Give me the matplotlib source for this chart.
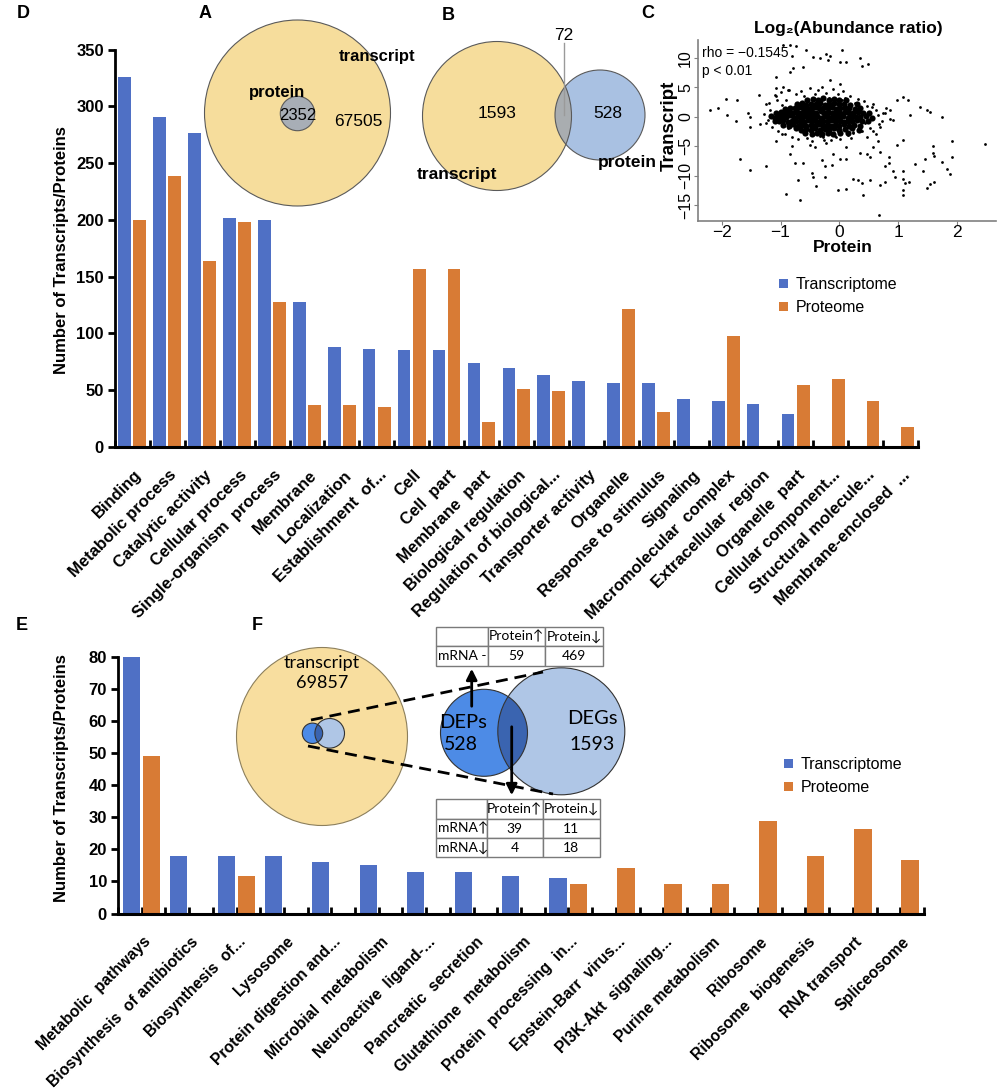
import numpy as np
import matplotlib.pyplot as plt
from matplotlib.patches import Circle, Ellipse, Rectangle
from matplotlib.transforms import offset_copy

plt.rcParams['font.family'] = ['Liberation Sans', 'DejaVu Sans']

BLUE = '#4f70c5'
ORANGE = '#d87b35'

# ---- panel D: GO terms ----
go_terms = ['Binding', 'Metabolic process', 'Catalytic activity', 'Cellular process',
            'Single-organism  process', 'Membrane', 'Localization', 'Establishment  of...',
            'Cell', 'Cell  part', 'Membrane  part', 'Biological regulation',
            'Regulation of biological...', 'Transporter activity', 'Organelle',
            'Response to stimulus', 'Signaling', 'Macromolecular  complex',
            'Extracellular  region', 'Organelle  part', 'Cellular component...',
            'Structural molecule...', 'Membrane-enclosed  ...']
go_transcriptome = [326, 291, 277, 202, 200, 128, 88, 86, 85, 85, 74, 69, 63, 58,
                    56, 56, 42, 40, 38, 29, 0, 0, 0]
go_proteome = [200, 239, 164, 198, 128, 37, 37, 35, 157, 157, 22, 51, 49, 0,
               121, 31, 0, 98, 0, 54, 60, 40, 17]

# ---- panel E: KEGG pathways ----
kegg_terms = ['Metabolic  pathways', 'Biosynthesis  of antibiotics', 'Biosynthesis  of...',
              'Lysosome', 'Protein digestion and...', 'Microbial  metabolism',
              'Neuroactive  ligand-...', 'Pancreatic  secretion', 'Glutathione  metabolism',
              'Protein  processing  in...', 'Epstein-Barr  virus...', 'PI3K-Akt  signaling...',
              'Purine metabolism', 'Ribosome', 'Ribosome  biogenesis', 'RNA transport',
              'Spliceosome']
kegg_transcriptome = [80, 18, 18, 18, 16, 15, 13, 13, 11.7, 11, 0, 0, 0, 0, 0, 0, 0]
kegg_proteome = [49, 0, 11.7, 0, 0, 0, 0, 0, 0, 9.2, 14.3, 9.2, 9.2, 28.8, 18, 26.2, 16.7]

# ---- venn numbers ----
venn_a = {'overlap': '2352', 'transcript': '67505'}
venn_b = {'transcript': '1593', 'overlap': '72', 'protein': '528'}
venn_f = {'transcript': '69857', 'DEPs': '528', 'DEGs': '1593'}
table_top = [['', 'Protein\u2191', 'Protein\u2193'], ['mRNA -', '59', '469']]
table_bottom = [['', 'Protein\u2191', 'Protein\u2193'],
                ['mRNA\u2191', '39', '11'], ['mRNA\u2193', '4', '18']]

# ---- panel C: log2 ratios (protein, transcript) ----
scatter_sparse = [(-0.95, 12.1), (-0.84, 12.2), (-0.73, 11.9), (-0.81, 10.3), (-0.56, 11.3),
                  (-0.44, 10.2), (-0.33, 9.9), (-0.22, 10.7), (-0.16, 10.3), (-0.19, 9.6),
                  (0.04, 11.3), (0.01, 9.3), (0.12, 9.2), (0.35, 9.9), (0.38, 8.6), (0.49, 8.9),
                  (-0.78, 8.2), (-0.84, 7.6), (-0.61, 8.5), (-1.07, 6.7), (-0.16, 6.2), (0.01, 5.6),
                  (-2.2, 1.1), (-2.06, 1.4), (-1.92, 3.0), (-1.74, 2.9), (-1.91, 0.3), (-1.75, -0.7),
                  (-1.55, 0.7), (-1.52, 0.0), (-1.36, 3.7), (-1.25, 2.1), (-1.35, -1.2), (-1.52, -1.7),
                  (-1.07, 4.8), (-0.95, 5.0), (-0.87, 4.6), (-1.07, 3.5), (-1.06, 2.8), (0.98, 2.8),
                  (1.09, 3.3), (1.17, 2.8), (1.37, 1.7), (1.49, 1.1), (1.54, 0.8), (1.74, -0.1),
                  (1.2, 0.3), (0.86, 1.1), (0.78, 0.6), (0.92, -0.6), (0.69, -1.7), (0.58, -2.5),
                  (0.47, -3.4), (0.66, -4.2), (0.98, -4.8), (1.09, -4.0), (1.6, -4.9), (1.91, -4.2),
                  (2.48, -4.7), (1.6, -6.2), (1.62, -6.7), (1.74, -7.6), (1.91, -6.9), (1.46, -7.2),
                  (1.29, -8.0), (1.43, -9.2), (1.83, -8.9), (1.88, -9.7), (1.09, -9.2), (0.92, -9.2),
                  (0.78, -8.3), (0.84, -6.8), (0.69, -5.9), (0.84, -7.9), (0.52, -6.9), (0.47, -6.3),
                  (0.58, -5.1), (0.12, -5.1), (0.35, -6.2), (0.12, -7.1), (-0.10, -6.3), (0.01, -7.1),
                  (-0.13, -8.2), (-0.30, -7.3), (-0.24, -8.3), (-0.41, -5.1), (-0.50, -4.8),
                  (-0.22, -4.5), (-0.81, -5.0), (-0.84, -6.3), (-0.76, -7.8), (-0.61, -7.9),
                  (-0.47, -9.6), (-0.44, -10.2), (-0.39, -11.7), (-0.24, -10.2), (-0.02, -12.4),
                  (0.12, -12.3), (0.23, -10.5), (0.32, -10.7), (0.38, -11.2), (0.52, -10.7),
                  (0.69, -11.6), (0.78, -11.0), (0.95, -10.2), (1.09, -10.6), (1.12, -11.2),
                  (1.18, -11.0), (1.09, -12.4), (1.09, -13.3), (1.49, -12.1), (1.54, -11.4),
                  (1.62, -11.0), (0.41, -13.2), (0.68, -16.7), (-0.9, -13.1), (-0.67, -14.2),
                  (-0.70, -10.7), (-1.69, -7.2), (-1.52, -9.0), (-1.24, -8.3), (-1.08, -4.2),
                  (-0.98, -2.9), (-0.28, -3.5), (-0.05, -3.4), (0.24, -2.8), (0.35, -2.5)]
scatter_fringe = [(-1.28, 0.5), (-1.22, -0.6), (-1.18, 1.2), (-1.25, -1.0), (-1.2, 2.4),
                  (-1.14, -1.8), (-1.1, 3.6), (-1.05, -2.5), (-1.0, 4.2), (-0.98, 1.9),
                  (-0.93, -3.0), (-0.9, 2.8), (-0.85, 4.5), (-0.8, -3.4), (-0.74, 3.9),
                  (-0.7, -3.8), (-0.66, 4.4), (-0.6, 3.5), (-0.55, -3.6), (-0.5, 4.8),
                  (-0.46, -4.1), (-0.42, 3.8), (-0.37, 4.6), (-0.33, -3.2), (-0.3, 5.0),
                  (-0.26, -3.9), (-0.22, 4.1), (-0.18, 3.2), (-0.14, -4.0), (-0.1, 4.7),
                  (-0.07, -3.3), (-0.03, 3.9), (0.02, -3.7), (0.06, 4.3), (0.1, 3.1),
                  (0.14, -3.1), (0.19, 3.5), (0.23, -2.6), (0.27, 2.4), (0.32, 3.0),
                  (0.38, -2.4), (0.42, 2.6), (0.47, 1.8), (0.52, -1.9), (0.58, 2.2),
                  (0.63, 1.2), (0.68, -1.2), (0.74, 0.6), (0.8, 1.5), (0.86, -0.4),
                  (0.62, -2.9), (0.55, 1.6), (0.44, -1.1), (0.35, 0.9), (0.28, -0.5),
                  (-0.58, 1.8), (-0.88, -1.9), (-0.95, 0.9), (-1.02, -0.3), (-0.62, -2.6),
                  (-0.3, 2.9), (-0.15, -2.7), (0.05, 2.8), (0.2, -3.6), (0.4, 0.5),
                  (0.66, 0.3), (0.72, -0.8)]
scatter_core = [(-1.16, 0.1), (-1.09, -0.2), (-1.03, 0.2), (-0.97, -0.1), (-0.9, 0.0),
                (-0.84, 0.3), (-0.77, -0.2), (-0.71, 0.1), (-0.64, -0.3), (-0.58, 0.2),
                (-0.51, 0.0), (-0.45, -0.1), (-0.38, 0.2), (-0.32, -0.2), (-0.25, 0.1),
                (-0.19, 0.0), (-0.12, -0.3), (-0.06, 0.2), (0.01, -0.1), (0.07, 0.1),
                (0.14, -0.2), (0.21, 0.2), (0.28, 0.0), (0.36, -0.1), (0.45, 0.2), (0.55, -0.3),
                (-1.08, 0.6), (-1.0, 0.8), (-0.93, 0.7), (-0.86, 0.9), (-0.79, 0.7), (-0.72, 0.8),
                (-0.66, 0.6), (-0.59, 0.9), (-0.52, 0.7), (-0.46, 0.8), (-0.39, 0.7), (-0.32, 0.9),
                (-0.26, 0.6), (-0.19, 0.8), (-0.12, 0.7), (-0.05, 0.9), (0.02, 0.7), (0.09, 0.8),
                (0.16, 0.6), (0.23, 0.7), (0.31, 0.8), (0.4, 0.6), (0.5, 0.7),
                (-1.1, -0.7), (-1.02, -0.8), (-0.95, -0.6), (-0.88, -0.9), (-0.81, -0.7),
                (-0.74, -0.8), (-0.67, -0.7), (-0.6, -0.9), (-0.54, -0.6), (-0.47, -0.8),
                (-0.4, -0.7), (-0.33, -0.9), (-0.27, -0.7), (-0.2, -0.8), (-0.13, -0.6),
                (-0.06, -0.8), (0.01, -0.7), (0.08, -0.9), (0.15, -0.7), (0.22, -0.8),
                (0.3, -0.6), (0.39, -0.8), (0.48, -0.7),
                (-0.92, 1.3), (-0.84, 1.5), (-0.76, 1.4), (-0.69, 1.6), (-0.62, 1.4), (-0.55, 1.5),
                (-0.48, 1.3), (-0.41, 1.6), (-0.34, 1.4), (-0.27, 1.5), (-0.2, 1.4), (-0.13, 1.6),
                (-0.06, 1.3), (0.01, 1.5), (0.09, 1.4), (0.17, 1.5), (0.26, 1.3), (0.36, 1.4),
                (-0.95, -1.4), (-0.86, -1.5), (-0.78, -1.3), (-0.7, -1.6), (-0.63, -1.4),
                (-0.56, -1.5), (-0.49, -1.4), (-0.42, -1.6), (-0.35, -1.3), (-0.28, -1.5),
                (-0.21, -1.4), (-0.14, -1.6), (-0.07, -1.4), (0.0, -1.5), (0.08, -1.3),
                (0.16, -1.5), (0.25, -1.4), (0.35, -1.6),
                (-0.72, 2.1), (-0.64, 2.3), (-0.56, 2.0), (-0.48, 2.2), (-0.4, 2.1), (-0.33, 2.4),
                (-0.25, 2.0), (-0.17, 2.2), (-0.09, 2.3), (-0.01, 2.1), (0.08, 2.2), (0.18, 2.0),
                (0.3, 2.1),
                (-0.74, -2.0), (-0.65, -2.2), (-0.57, -2.1), (-0.49, -2.3), (-0.41, -2.0),
                (-0.33, -2.2), (-0.25, -2.1), (-0.17, -2.3), (-0.09, -2.0), (0.0, -2.2),
                (0.1, -2.1), (0.22, -2.0), (0.34, -2.2),
                (-0.55, 2.8), (-0.45, 3.0), (-0.36, 2.9), (-0.27, 3.1), (-0.18, 2.8), (-0.09, 3.0),
                (0.0, 2.9), (0.12, 2.8),
                (-0.58, -2.7), (-0.47, -2.9), (-0.38, -2.8), (-0.29, -3.0), (-0.2, -2.7),
                (-0.1, -2.9), (0.01, -2.8), (0.14, -2.7)]

W, H = 1000, 1091
fig = plt.figure(figsize=(10, 10.91), dpi=100)


def rect(x0, y0, x1, y1):
    return [x0 / W, 1 - y1 / H, (x1 - x0) / W, (y1 - y0) / H]


def bar_panel(ax, terms, tvals, pvals, ymax, ystep, tick_pos, lab_dx, lab_dy, lab_size):
    pos = np.arange(len(terms))
    ax.bar(pos - 0.22, tvals, 0.36, color=BLUE, label='Transcriptome', zorder=2)
    ax.bar(pos + 0.21, pvals, 0.37, color=ORANGE, label='Proteome', zorder=2)
    ax.set_xlim(-0.5, len(terms) - 0.5)
    ax.set_ylim(0, ymax)
    ax.set_yticks(np.arange(0, ymax + 1, ystep))
    ax.set_xticks(tick_pos)
    ax.set_xticklabels([])
    ax.tick_params(axis='x', direction='in', length=5, width=2)
    ax.tick_params(axis='y', direction='out', length=5, width=2, labelsize=12, pad=3)
    for lab in ax.get_yticklabels():
        lab.set_fontweight('bold')
    for s in ['top', 'right']:
        ax.spines[s].set_visible(False)
    ax.spines['left'].set_linewidth(2)
    ax.spines['bottom'].set_linewidth(2.2)
    ax.patch.set_alpha(0)
    tr = offset_copy(ax.get_xaxis_transform(), fig=fig, x=lab_dx, y=-lab_dy, units='dots')
    for i, t in enumerate(terms):
        ax.text(i, 0, t, transform=tr, rotation=45, rotation_mode='anchor',
                ha='right', va='center', fontsize=lab_size, fontweight='bold')


# panel D
axd = fig.add_axes(rect(115, 49.7, 918, 446.7))
bar_panel(axd, go_terms, go_transcriptome, go_proteome, 350, 50,
          np.arange(len(go_terms) + 1) - 0.5, 7, 26, 12)
axd.legend(loc='upper left', bbox_to_anchor=(779 / W, 1 - 277 / H), bbox_transform=fig.transFigure,
           frameon=False, fontsize=11.5, handlelength=0.55, handleheight=0.55,
           handletextpad=0.5, labelspacing=0.5, borderpad=0, borderaxespad=0)

# panel E
axe = fig.add_axes(rect(118, 656.7, 924, 913.5))
bar_panel(axe, kegg_terms, kegg_transcriptome, kegg_proteome, 80, 10,
          np.arange(2 * len(kegg_terms) + 1) / 2 - 0.5, 7, 26, 11.3)
axe.legend(loc='upper left', bbox_to_anchor=(784 / W, 1 - 757 / H), bbox_transform=fig.transFigure,
           frameon=False, fontsize=11.5, handlelength=0.55, handleheight=0.55,
           handletextpad=0.5, labelspacing=0.5, borderpad=0, borderaxespad=0)

# panel C
axc = fig.add_axes(rect(698, 40, 996, 221))
for pts, size in [(scatter_core, 20), (scatter_fringe, 4), (scatter_sparse, 4)]:
    arr = np.array(pts)
    axc.scatter(arr[:, 0], arr[:, 1], s=size, c='black', linewidths=0)
axc.set_xlim(-2.405, 2.667)
axc.set_ylim(-17.68, 13.0)
axc.set_xticks([-2, -1, 0, 1, 2])
axc.set_yticks([-15, -10, -5, 0, 5, 10])
for s in ['top', 'right']:
    axc.spines[s].set_visible(False)
for s in ['left', 'bottom']:
    axc.spines[s].set_color('#808080')
    axc.spines[s].set_linewidth(1.2)
axc.tick_params(length=3, color='#808080', labelsize=12.5, pad=0)
axc.tick_params(axis='y', labelsize=11.5, pad=0.5)
for lab in axc.get_yticklabels():
    lab.set_rotation(90)
    lab.set_va('center')
axc.patch.set_alpha(0)

# overlay in pixel coordinates
ov = fig.add_axes([0, 0, 1, 1])
ov.set_xlim(0, W)
ov.set_ylim(H, 0)
ov.axis('off')
ov.patch.set_alpha(0)

for x, y, s in [(23, 14, 'D'), (205, 14, 'A'), (448, 15, 'B'), (648, 14, 'C'),
                (22, 626, 'E'), (257, 626, 'F')]:
    ov.text(x, y, s, fontsize=13, fontweight='bold', ha='center', va='center')

ov.text(62, 250, 'Number of Transcripts/Proteins', rotation=90, fontsize=12,
        fontweight='bold', ha='center', va='center')
ov.text(62, 778, 'Number of Transcripts/Proteins', rotation=90, fontsize=12,
        fontweight='bold', ha='center', va='center')

YEL = '#f6dd9c'
EDGE = '#5a5a5a'

# A
ov.add_patch(Circle((297.5, 113), 93, fc=YEL, ec=EDGE, lw=0.8))
ov.add_patch(Circle((297.5, 113.5), 17.2, fc='#a8aeb6', ec=EDGE, lw=0.8))
ov.text(277, 93, 'protein', fontsize=12, fontweight='bold', ha='center', va='center')
ov.text(377, 57, 'transcript', fontsize=12, fontweight='bold', ha='center', va='center')
ov.text(297.5, 115, venn_a['overlap'], fontsize=12, ha='center', va='center')
ov.text(358, 121, venn_a['transcript'], fontsize=12.5, ha='center', va='center')

# B
yb = Circle((497, 116), 74.5, fc=YEL, ec='none')
ov.add_patch(yb)
ov.add_patch(Circle((600, 115), 45, fc='#a9c1e2', ec='none'))
ov_b = Circle((600, 115), 45, fc='#a9adb0', ec='none')
ov.add_patch(ov_b)
ov_b.set_clip_path(yb)
ov.add_patch(Circle((497, 116), 74.5, fc='none', ec=EDGE, lw=0.8))
ov.add_patch(Circle((600, 115), 45, fc='none', ec=EDGE, lw=0.8))
ov.plot([564, 564], [43, 115], color='#9a9a9a', lw=1)
ov.text(564, 36, venn_b['overlap'], fontsize=12.5, ha='center', va='center')
ov.text(497.5, 114, venn_b['transcript'], fontsize=12.5, ha='center', va='center')
ov.text(608, 114, venn_b['protein'], fontsize=12.5, ha='center', va='center')
ov.text(457, 174, 'transcript', fontsize=12.5, fontweight='bold', ha='center', va='center')
ov.text(627, 162, 'protein', fontsize=12.5, fontweight='bold', ha='center', va='center')

# C labels
ov.text(848, 28, 'Log\u2082(Abundance ratio)', fontsize=12.5, fontweight='bold',
        ha='center', va='center')
ov.text(669, 126, 'Transcript', fontsize=13.5, fontweight='bold', rotation=90,
        ha='center', va='center')
ov.text(843, 248, 'Protein', fontsize=12.5, fontweight='bold', ha='center', va='center')
ov.text(702, 53, 'rho = \u22120.1545', fontsize=10, ha='left', va='center')
ov.text(702, 71, 'p < 0.01', fontsize=10, ha='left', va='center')

# F
FF = ['Lato', 'DejaVu Sans']
ov.add_patch(Ellipse((322, 736.5), 171, 178, fc='#f8de9f', ec='#8c7f5c', lw=0.8))
dash = dict(color='black', lw=2, dashes=(4.3, 2.5))
ov.plot([311, 543], [720, 672], **dash)
ov.plot([308, 553], [746, 794], **dash)

DEP = '#4d8be6'
DEG = '#afc6e6'
DARK = '#3a64b0'


def venn2(c1, r1, c2, r2):
    a = Circle(c1, r1, fc=DEP, ec='none')
    b = Circle(c2, r2, fc=DEG, ec='none')
    ov.add_patch(a)
    ov.add_patch(b)
    m = Circle(c1, r1, fc=DARK, ec='none')
    ov.add_patch(m)
    m.set_clip_path(b)
    ov.add_patch(Circle(c1, r1, fc='none', ec='#333333', lw=0.8))
    ov.add_patch(Circle(c2, r2, fc='none', ec='#333333', lw=0.8))


venn2((312.5, 733.3), 10.2, (329.7, 733.3), 14.8)
venn2((484, 732.8), 43.5, (561.3, 731.3), 63.5)

ov.text(321.7, 663, 'transcript', family=FF, fontsize=13, ha='center', va='center')
ov.text(321.7, 683.5, venn_f['transcript'], family=FF, fontsize=13, ha='center', va='center')
ov.text(463, 723, 'DEPs', family=FF, fontsize=14.5, ha='center', va='center')
ov.text(461, 744, venn_f['DEPs'], family=FF, fontsize=14, ha='center', va='center')
ov.text(592, 718, 'DEGs', family=FF, fontsize=14.5, ha='center', va='center')
ov.text(592, 744, venn_f['DEGs'], family=FF, fontsize=14, ha='center', va='center')

arrow = dict(arrowstyle='-|>', color='black', lw=2, mutation_scale=16)
ov.annotate('', xy=(471.7, 666), xytext=(471.7, 709), arrowprops=arrow)
ov.annotate('', xy=(511.7, 798), xytext=(511.7, 724), arrowprops=arrow)


def draw_table(xe, ye, cells):
    for r, row in enumerate(cells):
        for c, txt in enumerate(row):
            ov.add_patch(Rectangle((xe[c], ye[r]), xe[c + 1] - xe[c], ye[r + 1] - ye[r],
                                   fc='white', ec='#7a7a7a', lw=1))
            ym = (ye[r] + ye[r + 1]) / 2
            if c == 0:
                ov.text(xe[c] + 2, ym, txt, family=FF, fontsize=10, ha='left', va='center')
            else:
                ov.text((xe[c] + xe[c + 1]) / 2, ym, txt, family=FF, fontsize=10,
                        ha='center', va='center')


draw_table([436, 488.3, 545, 603.3], [626.7, 646, 665.7], table_top)
draw_table([436, 486.7, 542.7, 600], [799, 819, 838.3, 857.3], table_bottom)

fig.savefig('out.png', dpi=100)
